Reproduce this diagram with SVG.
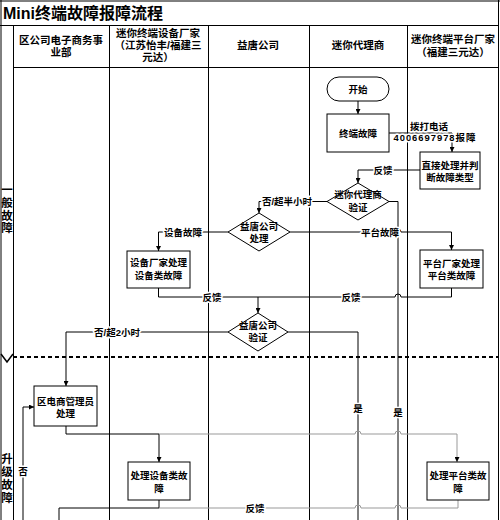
<svg xmlns="http://www.w3.org/2000/svg" width="500" height="520" viewBox="0 0 500 520">
<defs>
<marker id="ah" viewBox="0 0 8 8" refX="8" refY="4" markerWidth="5" markerHeight="5" orient="auto"><path d="M0,0 L8,4 L0,8 z" fill="#000"/></marker>
</defs>
<style>
text{font-family:"Liberation Sans","Noto Sans CJK SC",sans-serif;fill:#000}
.t{font-size:16px;font-weight:bold}
.h{font-size:10.5px;font-weight:bold;text-anchor:middle}
.n{font-size:9.5px;font-weight:bold;text-anchor:middle}
.lane{font-size:11.5px;font-weight:bold;text-anchor:middle}
.lbl{font-size:9.5px;font-weight:bold;text-anchor:middle;paint-order:stroke;stroke:#fff;stroke-width:3px;stroke-linejoin:round}
.box{fill:#fff;stroke:#000;stroke-width:1}
.c{fill:none;stroke:#000;stroke-width:1}
.g{fill:none;stroke:#999;stroke-width:1}
.grid{stroke:#000;stroke-width:1;fill:none}
</style>
<rect x="0" y="0" width="500" height="520" fill="#fff"/>
<g id="frame">
<path class="grid" d="M0,1 H500 M1,0 V520 M498.5,0 V520" stroke-width="2"/>
<path class="grid" d="M0,25.5 H499 M13,67.5 H499 M13.5,25 V520 M109.5,25 V520 M208.5,25 V520 M309.5,25 V520 M407.5,25 V520"/>
<path d="M13,357 H499" stroke="#000" stroke-width="2" stroke-dasharray="4,3" fill="none"/>
<polyline points="1,354 7,362 13,354" fill="none" stroke="#000" stroke-width="1.5"/>
</g>
<g id="title"><text class="t" x="3" y="19">Mini终端故障报障流程</text></g>
<g id="headers">
<text class="h" x="61" y="43.5">区公司电子商务事</text>
<text class="h" x="61" y="55.5">业部</text>
<text class="h" x="158" y="37">迷你终端设备厂家</text>
<text class="h" x="158" y="49">（江苏怡丰/福建三</text>
<text class="h" x="158" y="61">元达）</text>
<text class="h" x="258" y="49">益唐公司</text>
<text class="h" x="358" y="49">迷你代理商</text>
<text class="h" x="453" y="42.5">迷你终端平台厂家</text>
<text class="h" x="453" y="55.5">（福建三元达）</text>
</g>
<g id="lanes">
<text class="lane" x="7" y="194">一</text>
<text class="lane" x="7" y="207">般</text>
<text class="lane" x="7" y="219.5">故</text>
<text class="lane" x="7" y="232">障</text>
<text class="lane" x="7" y="463">升</text>
<text class="lane" x="7" y="476">级</text>
<text class="lane" x="7" y="489">故</text>
<text class="lane" x="7" y="502">障</text>
</g>
<g id="connectors">
<path class="c" d="M358,101 V114" marker-end="url(#ah)"/>
<path class="c" d="M389,133 H452 V152" marker-end="url(#ah)"/>
<path class="c" d="M420,170 H358 V183" marker-end="url(#ah)"/>
<path class="c" d="M327,201.5 H259 V213" marker-end="url(#ah)"/>
<path class="c" d="M228,232 H158.5 V251" marker-end="url(#ah)"/>
<path class="c" d="M290,232 H395 a3,3 0 0 1 6,0 H451.5 V250" marker-end="url(#ah)"/>
<path class="c" d="M158.5,288 V297 H258 V313" marker-end="url(#ah)"/>
<path class="c" d="M451.5,288 V297 H401 a3,3 0 0 0 -6,0 H258"/>
<path class="c" d="M389,201.5 H398 V520"/>
<path class="c" d="M288,332 H358 V520"/>
<path class="c" d="M228,332 H66 V386" marker-end="url(#ah)"/>
<path class="c" d="M66,426 V434 H159 V462" marker-end="url(#ah)"/>
<path class="g" d="M159,434 H355 a3,3 0 0 1 6,0 H395 a3,3 0 0 1 6,0 H457 V462" marker-end="url(#ah)"/>
<path class="c" d="M159,500 V508 H59 V520"/>
<path class="g" d="M458,500 V508 H401 a3,3 0 0 0 -6,0 H361 a3,3 0 0 0 -6,0 H159"/>
<path class="c" d="M23,520 V407 H34" marker-end="url(#ah)"/>
<text class="lbl" x="429" y="129.5">拨打电话</text>
<text class="lbl" x="434.5" y="140.5" textLength="82" lengthAdjust="spacing">4006697978报障</text>
<text class="lbl" x="383" y="173.5">反馈</text>
<text class="lbl" x="287" y="205">否/超半小时</text>
<text class="lbl" x="183" y="235.5">设备故障</text>
<text class="lbl" x="380" y="235.5">平台故障</text>
<text class="lbl" x="212" y="300.5">反馈</text>
<text class="lbl" x="351" y="300.5">反馈</text>
<text class="lbl" x="117" y="335.5">否/超2小时</text>
<text class="lbl" x="358" y="411.5">是</text>
<text class="lbl" x="398" y="415.5">是</text>
<text class="lbl" x="23" y="474.5">否</text>
<text class="lbl" x="255" y="511.5">反馈</text>
</g>
<g id="start"><rect class="box" x="327" y="77" width="62" height="24" rx="12"/><text class="n" x="358" y="92.5">开始</text></g>
<g id="fault"><rect class="box" x="327" y="114" width="62" height="38"/><text class="n" x="358" y="136.5">终端故障</text></g>
<g id="direct"><rect class="box" x="420" y="152" width="60" height="37"/><text class="n" x="450" y="168.5">直接处理并判</text><text class="n" x="450" y="181">断故障类型</text></g>
<g id="agentVerify"><polygon class="box" points="358,183 389,201.5 358,220 327,201.5"/><text class="n" x="358" y="198">迷你代理商</text><text class="n" x="358" y="210.5">验证</text></g>
<g id="ytHandle"><polygon class="box" points="259,213 290,232 259,251 228,232"/><text class="n" x="259" y="229.5">益唐公司</text><text class="n" x="259" y="241.5">处理</text></g>
<g id="devVendor"><rect class="box" x="127" y="251" width="63" height="37"/><text class="n" x="158.5" y="265.5">设备厂家处理</text><text class="n" x="158.5" y="278.5">设备类故障</text></g>
<g id="platVendor"><rect class="box" x="420" y="250" width="63" height="38"/><text class="n" x="451.5" y="266.5">平台厂家处理</text><text class="n" x="451.5" y="278.5">平台类故障</text></g>
<g id="ytVerify"><polygon class="box" points="258,313 288,332 258,351 228,332"/><text class="n" x="258" y="328.5">益唐公司</text><text class="n" x="258" y="340.5">验证</text></g>
<g id="admin"><rect class="box" x="34" y="386" width="63" height="40"/><text class="n" x="65.5" y="404.5">区电商管理员</text><text class="n" x="65.5" y="417">处理</text></g>
<g id="devFix"><rect class="box" x="128" y="462" width="62" height="38"/><text class="n" x="159" y="479">处理设备类故</text><text class="n" x="159" y="491.5">障</text></g>
<g id="platFix"><rect class="box" x="427" y="462" width="62" height="38"/><text class="n" x="458" y="479">处理平台类故</text><text class="n" x="458" y="491.5">障</text></g>
</svg>
